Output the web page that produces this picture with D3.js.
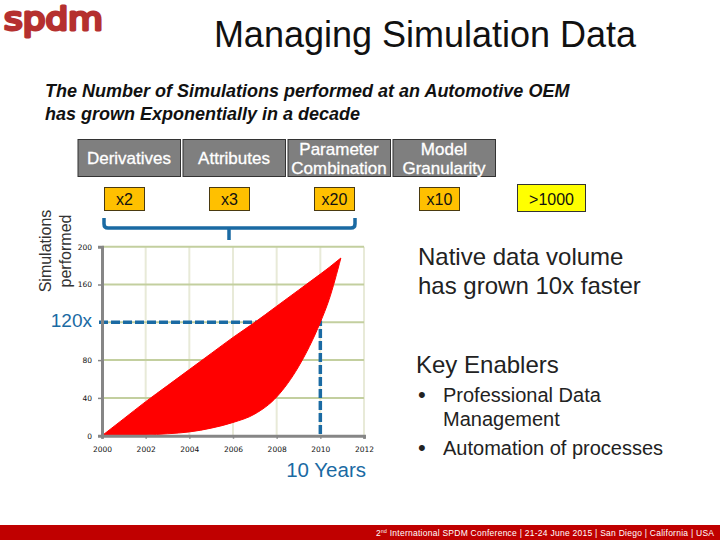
<!DOCTYPE html>
<html>
<head>
<meta charset="utf-8">
<script src="https://cdn.jsdelivr.net/npm/d3@7"></script>
<style>
  html, body { margin: 0; padding: 0; background: #fff; }
  svg { display: block; font-family: "Liberation Sans", Arial, sans-serif; }
</style>
</head>
<body>
<div id="chart"></div>
<script>
// chart values
const years = [2000, 2001, 2002, 2003, 2004, 2005, 2006, 2007, 2008, 2009, 2010, 2010.4, 2010.94];
const upperValues = [0, 18, 36, 53, 70, 87, 104, 120, 137, 154, 171, 178, 188];
const lowerValues = [0, 0.2, 0.7, 2, 4, 8, 14, 23, 41, 73, 120, 144, 188];
const xTicks = [2000, 2002, 2004, 2006, 2008, 2010, 2012];
const yTicks = [0, 40, 80, 120, 160, 200];
const yTickLabels = [0, 40, 80, 160, 200];
const headers = [["Derivatives"], ["Attributes"], ["Parameter", "Combination"], ["Model", "Granularity"]];
const factors = ["x2", "x3", "x20", "x10"];
const enablers = [["Professional Data", "Management"], ["Automation of processes"]];

const width = 720, height = 540;
const blue = "#1a6aa3";

const svg = d3.select("#chart").append("svg")
  .attr("width", width)
  .attr("height", height);

// logo and titles
svg.append("text")
  .attr("x", 4).attr("y", 29.5)
  .attr("font-family", "DejaVu Sans")
  .attr("font-size", 32)
  .attr("textLength", 99)
  .attr("lengthAdjust", "spacingAndGlyphs")
  .attr("fill", "#b5302f")
  .attr("stroke", "#b5302f")
  .attr("stroke-width", 3)
  .attr("stroke-linejoin", "round")
  .text("spdm");

svg.append("text")
  .attr("x", 425).attr("y", 47)
  .attr("text-anchor", "middle")
  .attr("font-size", 36)
  .attr("fill", "#111")
  .text("Managing Simulation Data");

["The Number of Simulations performed at an Automotive OEM", "has grown Exponentially in a decade"]
  .forEach((t, i) => {
    svg.append("text")
      .attr("x", 45).attr("y", 97 + i * 22.5)
      .attr("font-size", 18)
      .attr("font-weight", 700)
      .attr("font-style", "italic")
      .attr("fill", "#111")
      .text(t);
  });

// grey header boxes
const boxX = [78, 183, 288, 393];
headers.forEach((lines, i) => {
  svg.append("rect")
    .attr("x", boxX[i]).attr("y", 139.5)
    .attr("width", 102.5).attr("height", 37)
    .attr("fill", "#7f7f7f")
    .attr("stroke", "#333");
  lines.forEach((t, j) => {
    svg.append("text")
      .attr("x", boxX[i] + 51)
      .attr("y", lines.length === 1 ? 163.5 : 154.5 + j * 19)
      .attr("text-anchor", "middle")
      .attr("font-size", 17)
      .attr("fill", "#fff")
      .attr("stroke", "#fff")
      .attr("stroke-width", 0.3)
      .text(t);
  });
});

// gold factor boxes
const factorX = [104.5, 209.5, 314.5, 419.5];
factors.forEach((t, i) => {
  svg.append("rect")
    .attr("x", factorX[i]).attr("y", 187.5)
    .attr("width", 40).attr("height", 23)
    .attr("fill", "#ffc000")
    .attr("stroke", "#4a3a10");
  svg.append("text")
    .attr("x", factorX[i] + 20).attr("y", 205)
    .attr("text-anchor", "middle")
    .attr("font-size", 16)
    .attr("fill", "#111")
    .text(t);
});

svg.append("rect")
  .attr("x", 517.5).attr("y", 184.5)
  .attr("width", 68).attr("height", 27)
  .attr("fill", "#ffff00")
  .attr("stroke", "#333");
svg.append("text")
  .attr("x", 551.5).attr("y", 204.5)
  .attr("text-anchor", "middle")
  .attr("font-size", 16)
  .attr("fill", "#111")
  .text(">1000");

// bracket
svg.append("path")
  .attr("d", "M104,218V224Q104,228 108,228H351Q355,228 355,224V218M229,228V240")
  .attr("fill", "none")
  .attr("stroke", blue)
  .attr("stroke-width", 3.5);

// plot
const x = d3.scaleLinear().domain([2000, 2012]).range([102, 364]);
const y = d3.scaleLinear().domain([0, 200]).range([435.7, 246.7]);

svg.append("g").selectAll("line")
  .data(xTicks.slice(1))
  .join("line")
  .attr("x1", d => x(d)).attr("x2", d => x(d))
  .attr("y1", y(200)).attr("y2", y(0))
  .attr("stroke", "#e8ead8")
  .attr("stroke-width", 2);

svg.append("g").selectAll("line")
  .data(yTicks.slice(1))
  .join("line")
  .attr("x1", x(2000)).attr("x2", x(2012))
  .attr("y1", d => y(d)).attr("y2", d => y(d))
  .attr("stroke", "#c3cf9f")
  .attr("stroke-width", 2);

// dashed guides go under the red area
svg.append("path")
  .attr("d", `M${x(2000) - 3},${y(120)}H${x(2010)}V${y(0)}`)
  .attr("fill", "none")
  .attr("stroke", blue)
  .attr("stroke-width", 3.5)
  .attr("stroke-dasharray", "9 3");

const rows = years.map((d, i) => ({ year: d, upper: upperValues[i], lower: lowerValues[i] }));
const area = d3.area()
  .x(d => x(d.year))
  .y0(d => y(d.lower))
  .y1(d => y(d.upper))
  .curve(d3.curveMonotoneX);

svg.append("path")
  .datum(rows)
  .attr("d", area)
  .attr("fill", "#ff0000")
  .attr("stroke", "#ff0000")
  .attr("stroke-width", 1);

// axes
const xAxis = d3.axisBottom(x).tickValues(xTicks).tickFormat(d3.format("d")).tickSize(3).tickPadding(8);
const yAxis = d3.axisLeft(y).tickValues(yTickLabels).tickSize(4).tickPadding(6);

const gx = svg.append("g").attr("transform", `translate(0,${y(0)})`).call(xAxis);
const gy = svg.append("g").attr("transform", `translate(${x(2000)},0)`).call(yAxis);

[gx, gy].forEach(g => {
  g.select(".domain").attr("stroke", "#868686").attr("stroke-width", 3);
  g.selectAll(".tick line").attr("stroke", "#868686").attr("stroke-width", 1.5);
  g.selectAll("text")
    .attr("font-family", "DejaVu Sans")
    .attr("font-size", 7.5)
    .attr("fill", "#111");
});

svg.append("text")
  .attr("x", 92).attr("y", 327)
  .attr("text-anchor", "end")
  .attr("font-size", 19)
  .attr("fill", blue)
  .text("120x");

svg.append("text")
  .attr("x", 366).attr("y", 476.5)
  .attr("text-anchor", "end")
  .attr("font-size", 20.5)
  .attr("fill", blue)
  .text("10 Years");

// y axis title
["Simulations", "performed"].forEach((t, i) => {
  svg.append("text")
    .attr("transform", `translate(${51 + i * 20},251) rotate(-90)`)
    .attr("text-anchor", "middle")
    .attr("font-size", 16)
    .attr("fill", "#333")
    .text(t);
});

// right side notes
["Native data volume", "has grown 10x faster"].forEach((t, i) => {
  svg.append("text")
    .attr("x", 418).attr("y", 265 + i * 29)
    .attr("font-size", 24)
    .attr("fill", "#222")
    .text(t);
});

svg.append("text")
  .attr("x", 416).attr("y", 373)
  .attr("font-size", 24)
  .attr("fill", "#222")
  .text("Key Enablers");

let lineY = 402;
enablers.forEach(lines => {
  svg.append("text")
    .attr("x", 418).attr("y", lineY)
    .attr("font-size", 22)
    .attr("fill", "#222")
    .text("•");
  lines.forEach((t, j) => {
    svg.append("text")
      .attr("x", 443).attr("y", lineY + j * 24)
      .attr("font-size", 20)
      .attr("fill", "#222")
      .text(t);
  });
  lineY += lines.length * 26.5;
});

// footer band
svg.append("rect")
  .attr("x", 0).attr("y", 525)
  .attr("width", width).attr("height", 15)
  .attr("fill", "#c00000");

const footer = svg.append("text")
  .attr("x", 376).attr("y", 536)
  .attr("font-size", 8.5)
  .attr("fill", "#fff")
  .attr("textLength", 338);
footer.append("tspan").text("2");
footer.append("tspan").attr("font-size", 5).attr("dy", -3).text("nd");
footer.append("tspan").attr("dy", 3).text(" International SPDM Conference | 21-24 June 2015 | San Diego | California | USA");
</script>
</body>
</html>
